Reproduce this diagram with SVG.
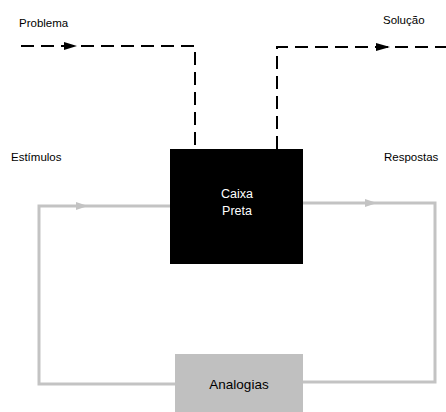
<svg xmlns="http://www.w3.org/2000/svg" width="446" height="412" viewBox="0 0 446 412">
<style>
.lbl{font-family:"Liberation Sans",Arial,sans-serif;font-size:11.5px;fill:#000}
.box{font-family:"Liberation Sans",Arial,sans-serif;font-size:12.5px}
.dash{fill:none;stroke:#000;stroke-width:2;stroke-dasharray:13 7}
.gray{fill:none;stroke:#c3c3c3;stroke-width:3}
</style>
<rect width="446" height="412" fill="#fff"/>
<g id="connectors">
<path class="dash" d="M21 46 H195 V149"/>
<path class="dash" d="M277 149 V47 H446"/>
<polygon points="64,42 77,46 64,50" fill="#000"/>
<polygon points="376,43 390,47 376,51" fill="#000"/>
<path class="gray" d="M170 206 H39 V384 H175"/>
<path class="gray" d="M303 203 H435 V382 H303"/>
<polygon points="76,202 88,206 76,210" fill="#c3c3c3"/>
<polygon points="365,199 377,203 365,207" fill="#c3c3c3"/>
</g>
<g id="labels">
<text class="lbl" x="19" y="27">Problema</text>
<text class="lbl" x="383" y="24">Solução</text>
<text class="lbl" x="11" y="161">Estímulos</text>
<text class="lbl" x="384" y="161">Respostas</text>
</g>
<g id="caixa-preta">
<rect x="170" y="149" width="133" height="115" fill="#000"/>
<text class="box" x="237" y="198" fill="#fff" text-anchor="middle">Caixa</text>
<text class="box" x="237" y="215" fill="#fff" text-anchor="middle">Preta</text>
</g>
<g id="analogias">
<rect x="175" y="354" width="128" height="58" fill="#c0c0c0"/>
<text class="box" x="239" y="389" fill="#000" text-anchor="middle" style="font-size:13.5px">Analogias</text>
</g>
</svg>
